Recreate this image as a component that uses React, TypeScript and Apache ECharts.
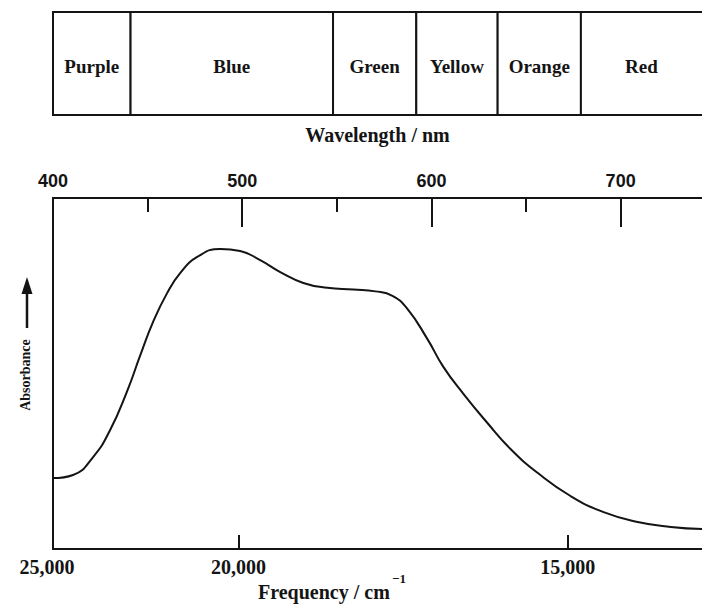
import React, { useEffect, useRef } from 'react';
import * as echarts from 'echarts';

// Colour bands (names and their boundaries in nm)
const bandNames = ['Purple', 'Blue', 'Green', 'Yellow', 'Orange', 'Red'];
const bandEdgesNm = [400, 441, 548, 592, 635, 679, 760];

// Wavelength (top) axis
const wavelengthLabelValues = [400, 500, 600, 700];
const wavelengthMajorTicks = [500, 600, 700];
const wavelengthMinorTicks = [450, 550, 650];

// Frequency (bottom) axis: labels and where they sit on the wavelength scale
const frequencyLabels = ['25,000', '20,000', '15,000'];
const frequencyPositionsNm = [400, 498, 672];
const frequencyTickPositionsNm = [498, 672];

// Absorption spectrum (arbitrary absorbance units)
const spectrumWavelengthNm = [
  400, 410.6, 421.2, 430.2, 439.2, 446.0, 452.9, 460.3, 467.2, 476.2, 488.4,
  498.9, 509.5, 520.1, 532.3, 545.0, 558.7, 570.4, 579.4, 587.3, 597.9, 606.3,
  616.9, 629.6, 641.8, 656.1, 673.5, 691.0, 709.0, 726.5, 743.0,
];
const spectrumAbsorbance = [
  20.2, 21.1, 26.2, 33.9, 45.0, 55.0, 64.7, 72.9, 78.6, 83.2, 85.5,
  84.9, 82.3, 78.9, 75.8, 74.4, 73.9, 73.4, 72.1, 68.4, 59.8, 51.9,
  44.2, 35.9, 28.5, 21.7, 15.1, 10.5, 7.7, 6.3, 5.7,
];

const WL_MIN = 400;
const WL_MAX = 743;
const INK = '#141414';
const SERIF = "'Liberation Serif', 'DejaVu Serif', serif";
const SANS = "'Liberation Sans', 'DejaVu Sans', sans-serif";

export default function App() {
  const ref = useRef<HTMLDivElement>(null);

  useEffect(() => {
    if (!ref.current) return;
    const chart = echarts.init(ref.current, undefined, { renderer: 'svg' });

    const bandData = bandNames.map((n, i) => [bandEdgesNm[i], bandEdgesNm[i + 1], i]);
    const lineData = spectrumWavelengthNm.map((w, i) => [w, spectrumAbsorbance[i]]);

    const freqFont = { fontFamily: SERIF, fontWeight: 'bold', fontSize: 20, color: INK };

    const option: any = {
      animation: false,
      backgroundColor: '#ffffff',
      grid: [
        { left: 53, right: 0, top: 198, bottom: 56 },
        { left: 53, right: 0, top: 12, height: 103 },
      ],
      xAxis: [
        {
          type: 'value',
          gridIndex: 0,
          position: 'top',
          min: WL_MIN,
          max: WL_MAX,
          name: 'Wavelength / nm',
          nameLocation: 'middle',
          nameGap: 53,
          nameTextStyle: { fontFamily: SERIF, fontWeight: 'bold', fontSize: 20, color: INK },
          axisLine: { show: true, onZero: false, lineStyle: { color: INK, width: 2 } },
          axisTick: {
            show: true,
            inside: true,
            length: 29,
            lineStyle: { color: INK, width: 2 },
            customValues: wavelengthMajorTicks,
          },
          axisLabel: {
            show: true,
            customValues: wavelengthLabelValues,
            fontFamily: SANS,
            fontWeight: 'bold',
            fontSize: 18,
            color: INK,
            margin: 8,
          },
          splitLine: { show: false },
        },
        {
          type: 'value',
          gridIndex: 0,
          position: 'top',
          min: WL_MIN,
          max: WL_MAX,
          axisLine: { show: false, onZero: false },
          axisTick: {
            show: true,
            inside: true,
            length: 14,
            lineStyle: { color: INK, width: 2 },
            customValues: wavelengthMinorTicks,
          },
          axisLabel: { show: false },
          splitLine: { show: false },
        },
        {
          type: 'value',
          gridIndex: 0,
          position: 'bottom',
          min: WL_MIN,
          max: WL_MAX,
          axisLine: { show: true, onZero: false, lineStyle: { color: INK, width: 2 } },
          axisTick: {
            show: true,
            inside: true,
            length: 14,
            lineStyle: { color: INK, width: 2 },
            customValues: frequencyTickPositionsNm,
          },
          axisLabel: {
            show: true,
            customValues: frequencyPositionsNm,
            formatter: (v: number) => {
              const i = frequencyPositionsNm.findIndex((p) => Math.abs(p - v) < 0.01);
              if (i < 0) return '';
              return i === 0 ? '{first|' + frequencyLabels[i] + '}' : frequencyLabels[i];
            },
            ...freqFont,
            margin: 8,
            rich: {
              first: { ...freqFont, padding: [0, 12, 0, 0] },
            },
          },
          splitLine: { show: false },
        },
        {
          type: 'value',
          gridIndex: 1,
          min: WL_MIN,
          max: WL_MAX,
          show: false,
        },
      ],
      yAxis: [
        {
          type: 'value',
          gridIndex: 0,
          min: 0,
          max: 100,
          axisLine: { show: true, onZero: false, lineStyle: { color: INK, width: 2 } },
          axisTick: { show: false },
          axisLabel: { show: false },
          splitLine: { show: false },
        },
        { type: 'value', gridIndex: 1, min: 0, max: 1, show: false },
      ],
      series: [
        {
          type: 'line',
          xAxisIndex: 0,
          yAxisIndex: 0,
          data: lineData,
          smooth: 0.5,
          smoothConstraint: false,
          symbol: 'none',
          lineStyle: { color: INK, width: 2 },
          silent: true,
        },
        {
          type: 'custom',
          xAxisIndex: 3,
          yAxisIndex: 1,
          data: bandData,
          silent: true,
          renderItem: (params: any, api: any) => {
            const s = api.coord([api.value(0), 0]);
            const e = api.coord([api.value(1), 1]);
            const name = bandNames[api.value(2)];
            const x = s[0];
            const y = e[1];
            const w = e[0] - s[0];
            const h = s[1] - e[1];
            const cx = Math.min(x + w / 2, x + (702 - x) / 2);
            return {
              type: 'group',
              children: [
                {
                  type: 'rect',
                  shape: { x, y, width: w, height: h },
                  style: { fill: '#ffffff', stroke: INK, lineWidth: 2 },
                },
                {
                  type: 'text',
                  style: {
                    text: name,
                    x: cx,
                    y: y + h / 2 + 3,
                    textAlign: 'center',
                    textVerticalAlign: 'middle',
                    fontFamily: SERIF,
                    fontWeight: 'bold',
                    fontSize: 19,
                    fill: INK,
                  },
                },
              ],
            };
          },
        },
      ],
      graphic: [
        {
          type: 'text',
          x: 258,
          y: 592,
          style: {
            text: 'Frequency / cm',
            textAlign: 'left',
            textVerticalAlign: 'middle',
            fontFamily: SERIF,
            fontWeight: 'bold',
            fontSize: 20,
            fill: INK,
          },
        },
        {
          type: 'text',
          x: 392,
          y: 578,
          style: {
            text: '−1',
            textAlign: 'left',
            textVerticalAlign: 'middle',
            fontFamily: SERIF,
            fontWeight: 'bold',
            fontSize: 13,
            fill: INK,
          },
        },
        {
          type: 'text',
          x: 25,
          y: 375,
          rotation: Math.PI / 2,
          style: {
            text: 'Absorbance',
            textAlign: 'center',
            textVerticalAlign: 'middle',
            fontFamily: SERIF,
            fontWeight: 'bold',
            fontSize: 14,
            fill: INK,
          },
        },
        {
          type: 'line',
          shape: { x1: 27, y1: 328, x2: 27, y2: 290 },
          style: { stroke: INK, lineWidth: 2.5 },
        },
        {
          type: 'polygon',
          shape: { points: [[27, 277], [21.5, 294], [32.5, 294]] },
          style: { fill: INK },
        },
      ],
    };

    chart.setOption(option);
    return () => chart.dispose();
  }, []);

  return (
    <div
      ref={ref}
      style={{ position: 'fixed', left: 0, top: 0, width: 702, height: 605, background: '#fff' }}
    />
  );
}
